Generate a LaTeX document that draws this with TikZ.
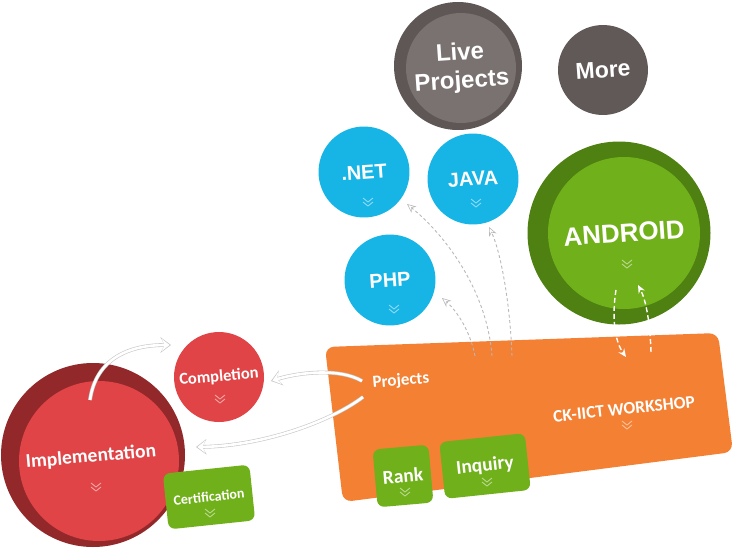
\documentclass[tikz,border=0pt]{standalone}
\usepackage{fontspec}
\setmainfont{Carlito}
\newfontfamily\arialfont{Liberation Sans}
\usetikzlibrary{arrows.meta}
\definecolor{cblue}{RGB}{23,180,230}
\definecolor{cgrayd}{RGB}{95,87,85}
\definecolor{cgrayl}{RGB}{122,114,112}
\definecolor{cgraym}{RGB}{97,89,87}
\definecolor{cgreend}{RGB}{78,128,18}
\definecolor{cgreen}{RGB}{112,176,26}
\definecolor{credd}{RGB}{146,40,42}
\definecolor{cred}{RGB}{224,68,70}
\definecolor{corange}{RGB}{243,128,51}
\begin{document}
\begin{tikzpicture}[x=1pt,y=-1pt,
  ball/.style={circle, inner sep=0pt, text=white, align=center},
  afont/.style={font=\arialfont\bfseries\fontsize{#1}{#1}\selectfont},
  cfont/.style={font=\bfseries\fontsize{#1}{#1}\selectfont},
  gbox/.style={rectangle, rounded corners=7pt, fill=cgreen, text=white, inner sep=0pt},
  chev/.pic={\draw[white, opacity=0.5, line width=0.9pt] (-5,-3)--(0,1)--(5,-3) (-5,1)--(0,5)--(5,1);},
  hollow/.style={draw=white, line width=2.6pt, shorten >=1.4pt, -{Stealth[length=8pt,width=12.5pt,inset=3pt]},
    preaction={draw=black!22, line width=3.8pt, shorten >=0pt, -{Stealth[length=10.5pt,width=15.5pt,inset=4pt]}}},
  gdash/.style={draw=black!28, line width=0.9pt, dash pattern=on 3pt off 2.5pt,
    -{Stealth[length=9pt,width=8pt,fill=white,line width=0.6pt]}},
  wdash/.style={draw=white, line width=1.4pt, dash pattern=on 5pt off 3pt, -{Stealth[length=8pt,width=7pt]}}
]
\useasboundingbox (0,0) rectangle (734,547);

% top circles
\node[ball, fill=cgrayd, minimum size=128] (liveo) at (458,66) {};
\node[ball, fill=cgrayl, minimum size=110, rotate=4, font=\arialfont\bfseries\fontsize{24}{28}\selectfont] (live) at (461,68) {Live\\Projects};
\node[ball, fill=cgraym, minimum size=90, rotate=4, afont=23] (more) at (603,70) {More};
\node[ball, fill=cblue, minimum size=91, rotate=4, afont=20] (net) at (364,172) {.NET};
\node[ball, fill=cblue, minimum size=91, rotate=4, afont=20] (java) at (473,179) {JAVA};
\node[ball, fill=cblue, minimum size=91, rotate=4, afont=20] (php) at (390,280) {PHP};
\node[ball, fill=cgreend, minimum size=183] (androido) at (619,233) {};
\node[ball, fill=cgreen, minimum size=152, rotate=4, afont=26] (android) at (624,233) {ANDROID};
\pic at (368,201) {chev};
\pic at (476,202) {chev};
\pic at (394,308) {chev};
\pic at (627,263) {chev};

% lower left circles
\node[ball, fill=credd, minimum size=184] (implo) at (93,455) {};
\node[ball, fill=cred, minimum size=160] (impl) at (99,461) {};
\node[text=white, cfont=19.5, rotate=5] (impltxt) at (91,457) {Implementation};
\node[ball, fill=cred, minimum size=90, rotate=5, cfont=16.5] (completion) at (219,377) {Completion};
\pic at (96,486) {chev};
\pic at (220,398) {chev};

% orange workshop
\draw[fill=corange, draw=none, rounded corners=9pt] (325,347) -- (718,333) -- (733,452) -- (343,502) -- cycle;
\node[text=white, cfont=17, rotate=5] (projects) at (401,381) {Projects};
\node[text=white, cfont=17.5, rotate=6] (workshop) at (624,409) {CK-IICT WORKSHOP};
\pic at (627,424) {chev};

% connector end points
\coordinate (pa1) at (362,381);
\coordinate (pa2) at (363,397);
\coordinate (ca) at (271,381);
\coordinate (ia) at (196,447);
\coordinate (is) at (90,400);
\coordinate (ce) at (171,345);
\coordinate (o1) at (475,356);
\coordinate (o2) at (492,356);
\coordinate (o3) at (512,356);
\coordinate (phpE) at (442,298);
\coordinate (netE) at (407,204);
\coordinate (javaE) at (489,227);
\coordinate (ad1) at (616,290);
\coordinate (ad2) at (626,357);
\coordinate (au1) at (651,352);
\coordinate (au2) at (638,285);

% hollow white arrows
\draw[hollow] (pa1) .. controls (340,368) and (300,372) .. (ca);
\draw[hollow] (pa2) .. controls (330,422) and (262,446) .. (ia);
\draw[hollow] (is) .. controls (96,358) and (130,345) .. (ce);

% dashed grey arrows
\draw[gdash] (o1) .. controls (470,330) and (456,310) .. (phpE);
\draw[gdash] (o2) .. controls (487,290) and (445,235) .. (netE);
\draw[gdash] (o3) .. controls (510,300) and (500,250) .. (javaE);

% dashed white arrows
\draw[wdash] (ad1) .. controls (612,315) and (614,340) .. (ad2);
\draw[wdash] (au1) .. controls (650,322) and (646,300) .. (au2);

% green boxes
\node[gbox, minimum width=56, minimum height=58, rotate=5, cfont=19.5] (rank) at (403,476) {Rank};
\node[gbox, minimum width=86, minimum height=57, rotate=6, cfont=19.5] (inquiry) at (485,466) {Inquiry};
\node[gbox, minimum width=87, minimum height=56, rotate=6, cfont=14] (cert) at (209,497) {Certification};
\pic at (405,491) {chev};
\pic at (487,481) {chev};
\pic at (210,512) {chev};
\end{tikzpicture}
\end{document}
